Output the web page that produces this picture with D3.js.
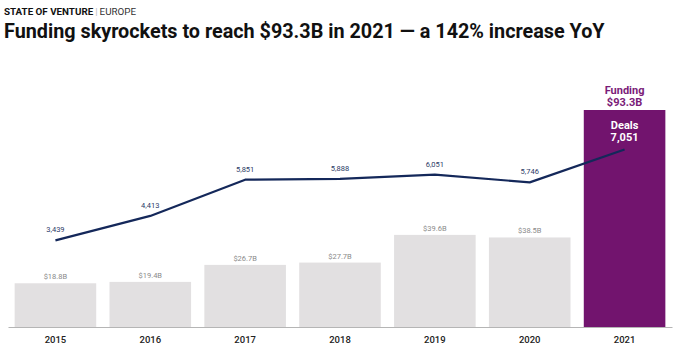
<!DOCTYPE html>
<html><head><meta charset="utf-8">
<script src="https://cdn.jsdelivr.net/npm/d3@7"></script>
<style>body{margin:0;background:#fff;}svg{display:block;font-family:Roboto,"Noto Sans",sans-serif;}</style>
</head><body><svg id="c" width="680" height="349"></svg>
<script>
const years = ["2015","2016","2017","2018","2019","2020","2021"];
const funding = [18.8, 19.4, 26.7, 27.7, 39.6, 38.5, 93.3];
const fundingLabels = ["$18.8B","$19.4B","$26.7B","$27.7B","$39.6B","$38.5B","$93.3B"];
const deals = [3439, 4413, 5851, 5888, 6051, 5746, 7051];
const dealLabels = ["3,439","4,413","5,851","5,888","6,051","5,746","7,051"];

const svg = d3.select("#c");
const base = 327;
const x = d3.scaleBand().domain(years).range([8, 672]).paddingInner(0.14).paddingOuter(0.07);
const yF = d3.scaleLinear().domain([0, 93.3]).range([base, 110]);
const yD = d3.scaleLinear().domain([0, 7051]).range([base, 149.5]);

// header
const h = svg.append("text").attr("x", 4).attr("y", 14.5).attr("font-size", 9.8);
h.append("tspan").attr("font-weight", 700).attr("fill", "#111").text("STATE OF VENTURE");
h.append("tspan").attr("fill", "#bbb").attr("dx", 2).text("|");
h.append("tspan").attr("fill", "#333").attr("dx", 2).text("EUROPE");
svg.append("text").attr("x", 4).attr("y", 37.5).attr("font-size", 19.8).attr("font-weight", 700)
  .attr("fill", "#111").text("Funding skyrockets to reach $93.3B in 2021 — a 142% increase YoY");

// bars
svg.selectAll("rect.bar").data(years).join("rect").attr("class", "bar")
  .attr("x", d => x(d)).attr("width", x.bandwidth())
  .attr("y", (d, i) => yF(funding[i])).attr("height", (d, i) => base - yF(funding[i]))
  .attr("fill", (d, i) => i === 6 ? "#72146e" : "#e2e0e1");

// bar labels (not last)
svg.selectAll("text.fl").data(years.slice(0, 6)).join("text").attr("class", "fl")
  .attr("x", d => x(d) + x.bandwidth() / 2).attr("y", (d, i) => yF(funding[i]) - 4)
  .attr("text-anchor", "middle").attr("font-size", 7.5).attr("fill", "#8a8a8a")
  .text((d, i) => fundingLabels[i]);

// 2021 labels
const cx = x("2021") + x.bandwidth() / 2;
svg.append("text").attr("x", cx).attr("y", yF(93.3) - 16).attr("text-anchor", "middle")
  .attr("font-size", 11).attr("font-weight", 700).attr("fill", "#7a1b78").text("Funding");
svg.append("text").attr("x", cx).attr("y", yF(93.3) - 4).attr("text-anchor", "middle")
  .attr("font-size", 11).attr("font-weight", 700).attr("fill", "#7a1b78").text(fundingLabels[6]);
svg.append("text").attr("x", cx).attr("y", yF(93.3) + 19).attr("text-anchor", "middle")
  .attr("font-size", 11).attr("font-weight", 700).attr("fill", "#fff").text("Deals");
svg.append("text").attr("x", cx).attr("y", yF(93.3) + 31).attr("text-anchor", "middle")
  .attr("font-size", 11).attr("font-weight", 700).attr("fill", "#fff").text(dealLabels[6]);

// axis
const axis = svg.append("g").attr("transform", `translate(0,${base})`)
  .call(d3.axisBottom(x).tickSize(0).tickPadding(9));
axis.select(".domain").attr("stroke", "#b5b5b5").attr("stroke-width", 1);
axis.selectAll("text").attr("font-size", 9.5).attr("font-weight", 500).attr("fill", "#222")
  .attr("font-family", "Roboto, sans-serif");

// deals line
const line = d3.line().x((d, i) => x(years[i]) + x.bandwidth() / 2).y(d => yD(d));
svg.append("path").datum(deals).attr("d", line).attr("fill", "none")
  .attr("stroke", "#14285a").attr("stroke-width", 2.2).attr("stroke-linejoin", "round");

svg.selectAll("text.dl").data(deals.slice(0, 6)).join("text").attr("class", "dl")
  .attr("x", (d, i) => x(years[i]) + x.bandwidth() / 2).attr("y", d => yD(d) - 8)
  .attr("text-anchor", "middle").attr("font-size", 7.5).attr("fill", "#2b3a66")
  .text((d, i) => dealLabels[i]);
</script></body></html>
